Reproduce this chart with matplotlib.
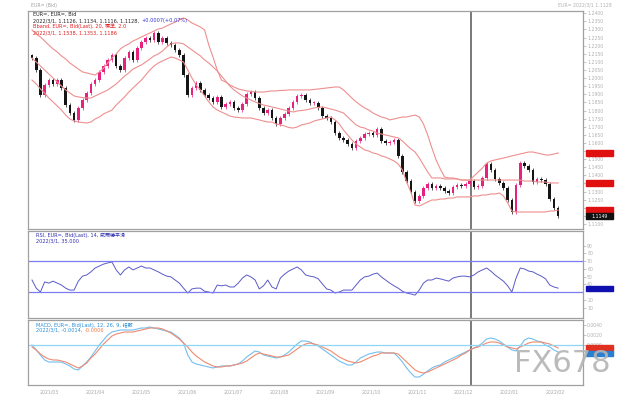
import numpy as np
import matplotlib
matplotlib.use('Agg')
import matplotlib.pyplot as plt
from matplotlib.patches import Rectangle

plt.rcParams['font.family'] = ['DejaVu Sans', 'Noto Sans CJK TC']

# daily closes (EUR/USD)
close = [1.2124, 1.2050, 1.1896, 1.1958, 1.1988, 1.1964, 1.1988, 1.1939, 1.1834, 1.1785,
         1.1742, 1.1816, 1.1865, 1.1908, 1.1964, 1.1988, 1.2038, 1.2075, 1.2112, 1.2143,
         1.2075, 1.2050, 1.2124, 1.2161, 1.2112, 1.2186, 1.2223, 1.2248, 1.2235, 1.2278,
         1.2223, 1.2248, 1.2217, 1.2204, 1.2174, 1.2143, 1.2019, 1.1896, 1.1939, 1.1970,
         1.1927, 1.1896, 1.1877, 1.1853, 1.1884, 1.1822, 1.1840, 1.1853, 1.1816, 1.1803,
         1.1840, 1.1902, 1.1914, 1.1877, 1.1816, 1.1785, 1.1803, 1.1754, 1.1717, 1.1754,
         1.1779, 1.1816, 1.1853, 1.1890, 1.1896, 1.1865, 1.1847, 1.1847, 1.1816, 1.1766,
         1.1754, 1.1729, 1.1661, 1.1631, 1.1618, 1.1594, 1.1569, 1.1612, 1.1631, 1.1655,
         1.1661, 1.1649, 1.1686, 1.1612, 1.1600, 1.1606, 1.1618, 1.1520, 1.1421, 1.1365,
         1.1297, 1.1242, 1.1273, 1.1322, 1.1347, 1.1322, 1.1334, 1.1322, 1.1304, 1.1291,
         1.1328, 1.1341, 1.1334, 1.1347, 1.1365, 1.1328, 1.1334, 1.1384, 1.1470, 1.1433,
         1.1378, 1.1353, 1.1322, 1.1248, 1.1174, 1.1341, 1.1476, 1.1458, 1.1433, 1.1359,
         1.1378, 1.1371, 1.1347, 1.1254, 1.1199, 1.1149]
prev_close = 1.2140  # close of the bar before the first one shown

# Bollinger band (20, 2.0) lines
bb_upper = [1.2297, 1.2272, 1.2254, 1.2229, 1.2204, 1.2180, 1.2161, 1.2137, 1.2118, 1.2093,
            1.2075, 1.2056, 1.2038, 1.2032, 1.2025, 1.2019, 1.2038, 1.2062, 1.2093, 1.2124,
            1.2149, 1.2180, 1.2198, 1.2211, 1.2229, 1.2241, 1.2254, 1.2266, 1.2278, 1.2291,
            1.2303, 1.2309, 1.2322, 1.2334, 1.2346, 1.2359, 1.2371, 1.2359, 1.2340, 1.2328,
            1.2315, 1.2297, 1.2204, 1.2130, 1.2050, 1.1988, 1.1976, 1.1958, 1.1945, 1.1933,
            1.1927, 1.1921, 1.1918, 1.1914, 1.1914, 1.1914, 1.1918, 1.1921, 1.1921, 1.1924,
            1.1924, 1.1927, 1.1927, 1.1927, 1.1927, 1.1927, 1.1927, 1.1930, 1.1933, 1.1936,
            1.1939, 1.1942, 1.1945, 1.1945, 1.1927, 1.1902, 1.1877, 1.1853, 1.1834, 1.1816,
            1.1803, 1.1785, 1.1772, 1.1760, 1.1754, 1.1742, 1.1748, 1.1754, 1.1760, 1.1760,
            1.1766, 1.1772, 1.1760, 1.1717, 1.1649, 1.1569, 1.1495, 1.1439, 1.1390, 1.1384,
            1.1384, 1.1378, 1.1371, 1.1371, 1.1371, 1.1396, 1.1421, 1.1445, 1.1476, 1.1489,
            1.1495, 1.1501, 1.1507, 1.1513, 1.1520, 1.1526, 1.1532, 1.1538, 1.1544, 1.1544,
            1.1538, 1.1532, 1.1526, 1.1526, 1.1532, 1.1538]
bb_mid = [1.2124, 1.2099, 1.2075, 1.2050, 1.2025, 1.2001, 1.1976, 1.1951, 1.1927, 1.1908,
          1.1890, 1.1884, 1.1880, 1.1877, 1.1877, 1.1890, 1.1902, 1.1914, 1.1927, 1.1945,
          1.1964, 1.1988, 1.2013, 1.2032, 1.2056, 1.2069, 1.2081, 1.2099, 1.2118, 1.2137,
          1.2149, 1.2167, 1.2192, 1.2211, 1.2217, 1.2217, 1.2211, 1.2192, 1.2174, 1.2155,
          1.2137, 1.2112, 1.2093, 1.2069, 1.2044, 1.2013, 1.1982, 1.1951, 1.1927, 1.1908,
          1.1890, 1.1877, 1.1865, 1.1853, 1.1843, 1.1834, 1.1828, 1.1822, 1.1816, 1.1809,
          1.1803, 1.1797, 1.1791, 1.1797, 1.1800, 1.1803, 1.1809, 1.1816, 1.1819, 1.1822,
          1.1816, 1.1809, 1.1803, 1.1794, 1.1785, 1.1760, 1.1735, 1.1711, 1.1698, 1.1692,
          1.1680, 1.1674, 1.1661, 1.1655, 1.1649, 1.1643, 1.1637, 1.1631, 1.1612, 1.1587,
          1.1563, 1.1544, 1.1507, 1.1464, 1.1421, 1.1384, 1.1384, 1.1384, 1.1378, 1.1378,
          1.1378, 1.1378, 1.1371, 1.1371, 1.1371, 1.1371, 1.1371, 1.1371, 1.1371, 1.1371,
          1.1371, 1.1371, 1.1371, 1.1371, 1.1371, 1.1371, 1.1371, 1.1365, 1.1365, 1.1365,
          1.1359, 1.1359, 1.1359, 1.1353, 1.1353, 1.1353]
bb_lower = [1.1988, 1.1964, 1.1933, 1.1908, 1.1877, 1.1853, 1.1828, 1.1803, 1.1772, 1.1748,
            1.1735, 1.1729, 1.1726, 1.1723, 1.1729, 1.1748, 1.1760, 1.1779, 1.1791, 1.1803,
            1.1834, 1.1859, 1.1884, 1.1914, 1.1939, 1.1964, 1.1988, 1.2019, 1.2050, 1.2075,
            1.2093, 1.2106, 1.2118, 1.2130, 1.2124, 1.2112, 1.2099, 1.2050, 1.2001, 1.1958,
            1.1927, 1.1890, 1.1853, 1.1822, 1.1803, 1.1791, 1.1779, 1.1766, 1.1760, 1.1757,
            1.1754, 1.1754, 1.1754, 1.1748, 1.1742, 1.1735, 1.1729, 1.1729, 1.1717, 1.1711,
            1.1705, 1.1695, 1.1692, 1.1698, 1.1711, 1.1717, 1.1723, 1.1735, 1.1742, 1.1748,
            1.1754, 1.1760, 1.1742, 1.1717, 1.1680, 1.1649, 1.1618, 1.1594, 1.1575, 1.1557,
            1.1550, 1.1538, 1.1532, 1.1520, 1.1513, 1.1501, 1.1489, 1.1470, 1.1433, 1.1359,
            1.1297, 1.1217, 1.1211, 1.1223, 1.1236, 1.1248, 1.1248, 1.1254, 1.1254, 1.1260,
            1.1260, 1.1267, 1.1267, 1.1267, 1.1267, 1.1273, 1.1273, 1.1279, 1.1279, 1.1285,
            1.1285, 1.1291, 1.1273, 1.1230, 1.1180, 1.1174, 1.1174, 1.1174, 1.1174, 1.1174,
            1.1174, 1.1174, 1.1174, 1.1180, 1.1180, 1.1186]

# RSI(14), Wilder smoothing
rsi = [45.5, 35, 30, 43, 41.5, 44, 41.5, 39, 35, 32.5, 32.5, 44, 50.5, 52, 56, 61, 63.5, 66,
       67.5, 68.7, 58.5, 52, 58.5, 62.3, 58.5, 61, 63.5, 61, 61, 58.5, 56, 53, 50.5, 49.5,
       45.5, 41.5, 35, 28.7, 34, 35, 35, 31, 30, 28.7, 39, 38, 39, 36.5, 36.5, 41.5, 48, 52,
       49.5, 45.5, 34, 38, 45.5, 36.5, 34, 48, 53, 57, 59.7, 62.3, 58.5, 52, 50.5, 49.5, 47,
       40.3, 34, 32.5, 28.7, 30, 32.5, 32.5, 32.5, 39, 45.5, 49.5, 50.5, 53, 54.5, 49.5, 45.5,
       41.5, 38, 35, 31, 28.7, 27.5, 26, 32.5, 41.5, 45.5, 45.5, 48, 47, 45.5, 44, 48, 49.5,
       50.5, 50.5, 49.5, 52, 56, 58.5, 61, 57, 52, 48, 44, 38, 30, 48, 61, 59.7, 57, 56, 53,
       50.5, 47, 39, 36.5, 35]

# MACD(12, 26, 9) in pips
macd = [0, -10, -20, -30, -34, -34, -34, -34, -38, -42, -48, -50, -42, -34, -24, -12, 0, 10,
        20, 26, 28, 30, 30, 30, 30, 32, 34, 34, 36, 34, 32, 30, 28, 26, 20, 14, 4, -20, -34,
        -38, -40, -42, -44, -46, -44, -42, -42, -42, -40, -38, -32, -24, -18, -12, -14, -20,
        -22, -24, -26, -24, -20, -14, -6, 2, 8, 8, 6, 2, -2, -8, -14, -20, -26, -32, -36, -40,
        -40, -34, -26, -22, -18, -16, -14, -14, -16, -16, -16, -24, -34, -46, -56, -64, -64,
        -58, -52, -46, -42, -40, -34, -30, -26, -22, -18, -14, -10, -6, -2, 4, 12, 14, 12, 8,
        2, -4, -10, -12, -2, 10, 14, 12, 8, 6, 0, -4, -10, -14]
macd_signal = [-4, -10, -18, -24, -28, -30, -30, -32, -34, -38, -42, -46, -42, -36, -26, -18,
               -8, 2, 10, 18, 22, 24, 26, 26, 26, 28, 30, 32, 34, 34, 34, 32, 28, 24, 18, 12,
               4, -4, -14, -22, -28, -34, -38, -42, -44, -44, -42, -42, -40, -38, -36, -32,
               -26, -20, -16, -18, -20, -22, -24, -24, -22, -20, -14, -8, -2, 2, 4, 2, 0, -4,
               -8, -12, -18, -24, -28, -32, -34, -36, -34, -30, -26, -22, -20, -16, -16, -16,
               -16, -18, -26, -34, -42, -50, -54, -56, -54, -50, -46, -42, -38, -34, -30, -26,
               -20, -16, -10, -6, -4, 0, 4, 6, 6, 4, 0, -4, -6, -8, -4, 0, 4, 6, 6, 6, 4, 2,
               -2, -6]

month_labels = ['2021/03', '2021/04', '2021/05', '2021/06', '2021/07', '2021/08', '2021/09',
                '2021/10', '2021/11', '2021/12', '2022/01', '2022/02']
cursor_bar = 104.3

c = np.array(close)
o = np.array([prev_close] + close[:-1])
x = np.arange(len(c))
macd = np.array(macd)
macd_signal = np.array(macd_signal)

W, H = 640, 400
fig = plt.figure(figsize=(6.4, 4.0), dpi=100)
fig.patch.set_facecolor('white')


def box(top, bottom):
    return [28 / W, 1 - bottom / H, (583 - 28) / W, (bottom - top) / H]


ax1 = fig.add_axes(box(11, 229))
ax2 = fig.add_axes(box(231, 318))
ax3 = fig.add_axes(box(320, 385))

frame = '#a0a0a0'
for ax in (ax1, ax2, ax3):
    ax.set_xlim(-0.95, 130.9)
    for sp in ax.spines.values():
        sp.set_color(frame)
        sp.set_linewidth(0.9)
    ax.tick_params(axis='x', bottom=False, labelbottom=False)
    ax.yaxis.tick_right()
    ax.tick_params(axis='y', labelsize=3.3, colors='#b0b0b0', length=2, width=0.5, pad=1)
    ax.axvline(cursor_bar, color='#555555', lw=1.1)

# price panel: candles + bands
up = c >= o
cols = np.where(up, '#e8207f', '#151515')
lo_b = np.minimum(o, c)
hi_b = np.maximum(o, c)
ax1.vlines(x, lo_b - 0.0010, hi_b + 0.0010, colors=cols, lw=0.5)
ax1.bar(x, np.maximum(hi_b - lo_b, 0.0004), bottom=lo_b, width=0.62, color=cols, lw=0)
bb_col = '#ee8f8f'
for band in (bb_upper, bb_mid, bb_lower):
    ax1.plot(x, band, color=bb_col, lw=0.8)
ax1.set_ylim(1.1069, 1.2414)
pticks = np.arange(1.110, 1.241, 0.005)
tag_vals = [bb_upper[-1], bb_mid[-1], bb_lower[-1], close[-1]]
ax1.set_yticks(pticks)
ax1.set_yticklabels(['' if min(abs(v - t) for t in tag_vals) < 0.0035 else '%.4f' % v
                     for v in pticks])

# RSI panel
ax2.plot(x, rsi, color='#5a5ac8', lw=0.7)
ax2.axhline(70, color='#7c7cf2', lw=0.9)
ax2.axhline(30, color='#7c7cf2', lw=0.9)
ax2.set_ylim(-3.5, 108.7)
ax2.set_yticks([10, 20, 40, 50, 60, 70, 80, 90])

# MACD panel
ax3.plot(x, macd, color='#72bff0', lw=0.8)
ax3.plot(x, macd_signal, color='#f08a70', lw=0.8)
ax3.axhline(0, color='#8fd6f2', lw=0.9)
ax3.set_ylim(-80, 50)
ax3.set_yticks([40, 20, 0])
ax3.set_yticklabels(['0.0040', '0.0020', '0.0000'])

fig.canvas.draw()
renderer = fig.canvas.get_renderer()


# value boxes on the right axis
def tag_y(ax, val):
    return ax.transData.transform((0, val))[1] / fig.dpi / 4.0


def tag(yf, color, text=''):
    fig.patches.append(Rectangle((586 / W, yf - 0.0065), 27 / W, 0.013, color=color,
                                 transform=fig.transFigure, figure=fig))
    if text:
        fig.text(599.5 / W, yf, text, color='white', fontsize=3.3, ha='center', va='center')


hb = 0.013
tag(tag_y(ax1, bb_upper[-1]), '#e01010')
tag(tag_y(ax1, bb_mid[-1]), '#e01010')
y_low = tag_y(ax1, bb_lower[-1])
tag(y_low, '#e01010')
tag(min(tag_y(ax1, close[-1]), y_low - hb), '#111111', '%.4f' % close[-1])
tag(tag_y(ax2, rsi[-1]), '#1010b0')
y_sig = tag_y(ax3, macd_signal[-1])
tag(y_sig, '#e03020')
tag(min(tag_y(ax3, macd[-1]), y_sig - hb), '#2a7fd0')


def line_text(xp, yp, parts, fs=3.6):
    # several coloured pieces on one line, placed one after the other
    xf = xp / W
    for txt, col in parts:
        t = fig.text(xf, 1 - yp / H, txt, fontsize=fs, color=col, va='center')
        bb = t.get_window_extent(renderer)
        xf = (bb.x1 + 2) / (W)


dark, red, blue = '#222222', '#e02020', '#3030d0'
line_text(33, 14.5, [('EUR=, EUR=, Bid', dark)])
line_text(33, 20.7, [('2022/3/1, 1.1126, 1.1134, 1.1116, 1.1128,', dark),
                     ('+0.0007(+0.07%)', blue)])
line_text(33, 26.5, [('Bband, EUR=, Bid(Last), 20, 標準, 2.0', red)])
line_text(33, 32.7, [('2022/3/1, %.4f, %.4f, %.4f' % (bb_upper[-1], bb_mid[-1], bb_lower[-1]),
                      red)])
line_text(36, 235.7, [('RSI, EUR=, Bid(Last), 14, 威爾德平滑', '#3030b0')])
line_text(36, 240.8, [('2022/3/1, %.3f' % rsi[-1], '#3030b0')])
line_text(36, 325.7, [('MACD, EUR=, Bid(Last), 12, 26, 9, 指數', '#2a8fd8')])
line_text(36, 330.5, [('2022/3/1, %.4f,' % (macd[-1] / 10000), '#2a8fd8'),
                      ('%.4f' % (macd_signal[-1] / 10000), '#f07a40')])

fig.text(31 / W, 1 - 5 / H, 'EUR= (Bid)', fontsize=3.3, color='#a0a0a0', va='center')
fig.text(612 / W, 1 - 5 / H, 'EUR= 2022/3/1 1.1128', fontsize=3.3, color='#b0b0b0',
         va='center', ha='right')

# date row under the panels
for i, lab in enumerate(month_labels):
    fig.text((40 + i * 46) / W, 1 - 392 / H, lab, fontsize=3.3, color='#a8a8a8', va='center')

# watermark
fig.text(562 / W, 1 - 364 / H, 'FX678', fontsize=22, color='#b4b4b4', ha='center',
         va='center', alpha=0.9)

fig.savefig('out.png', dpi=100, facecolor='white')
